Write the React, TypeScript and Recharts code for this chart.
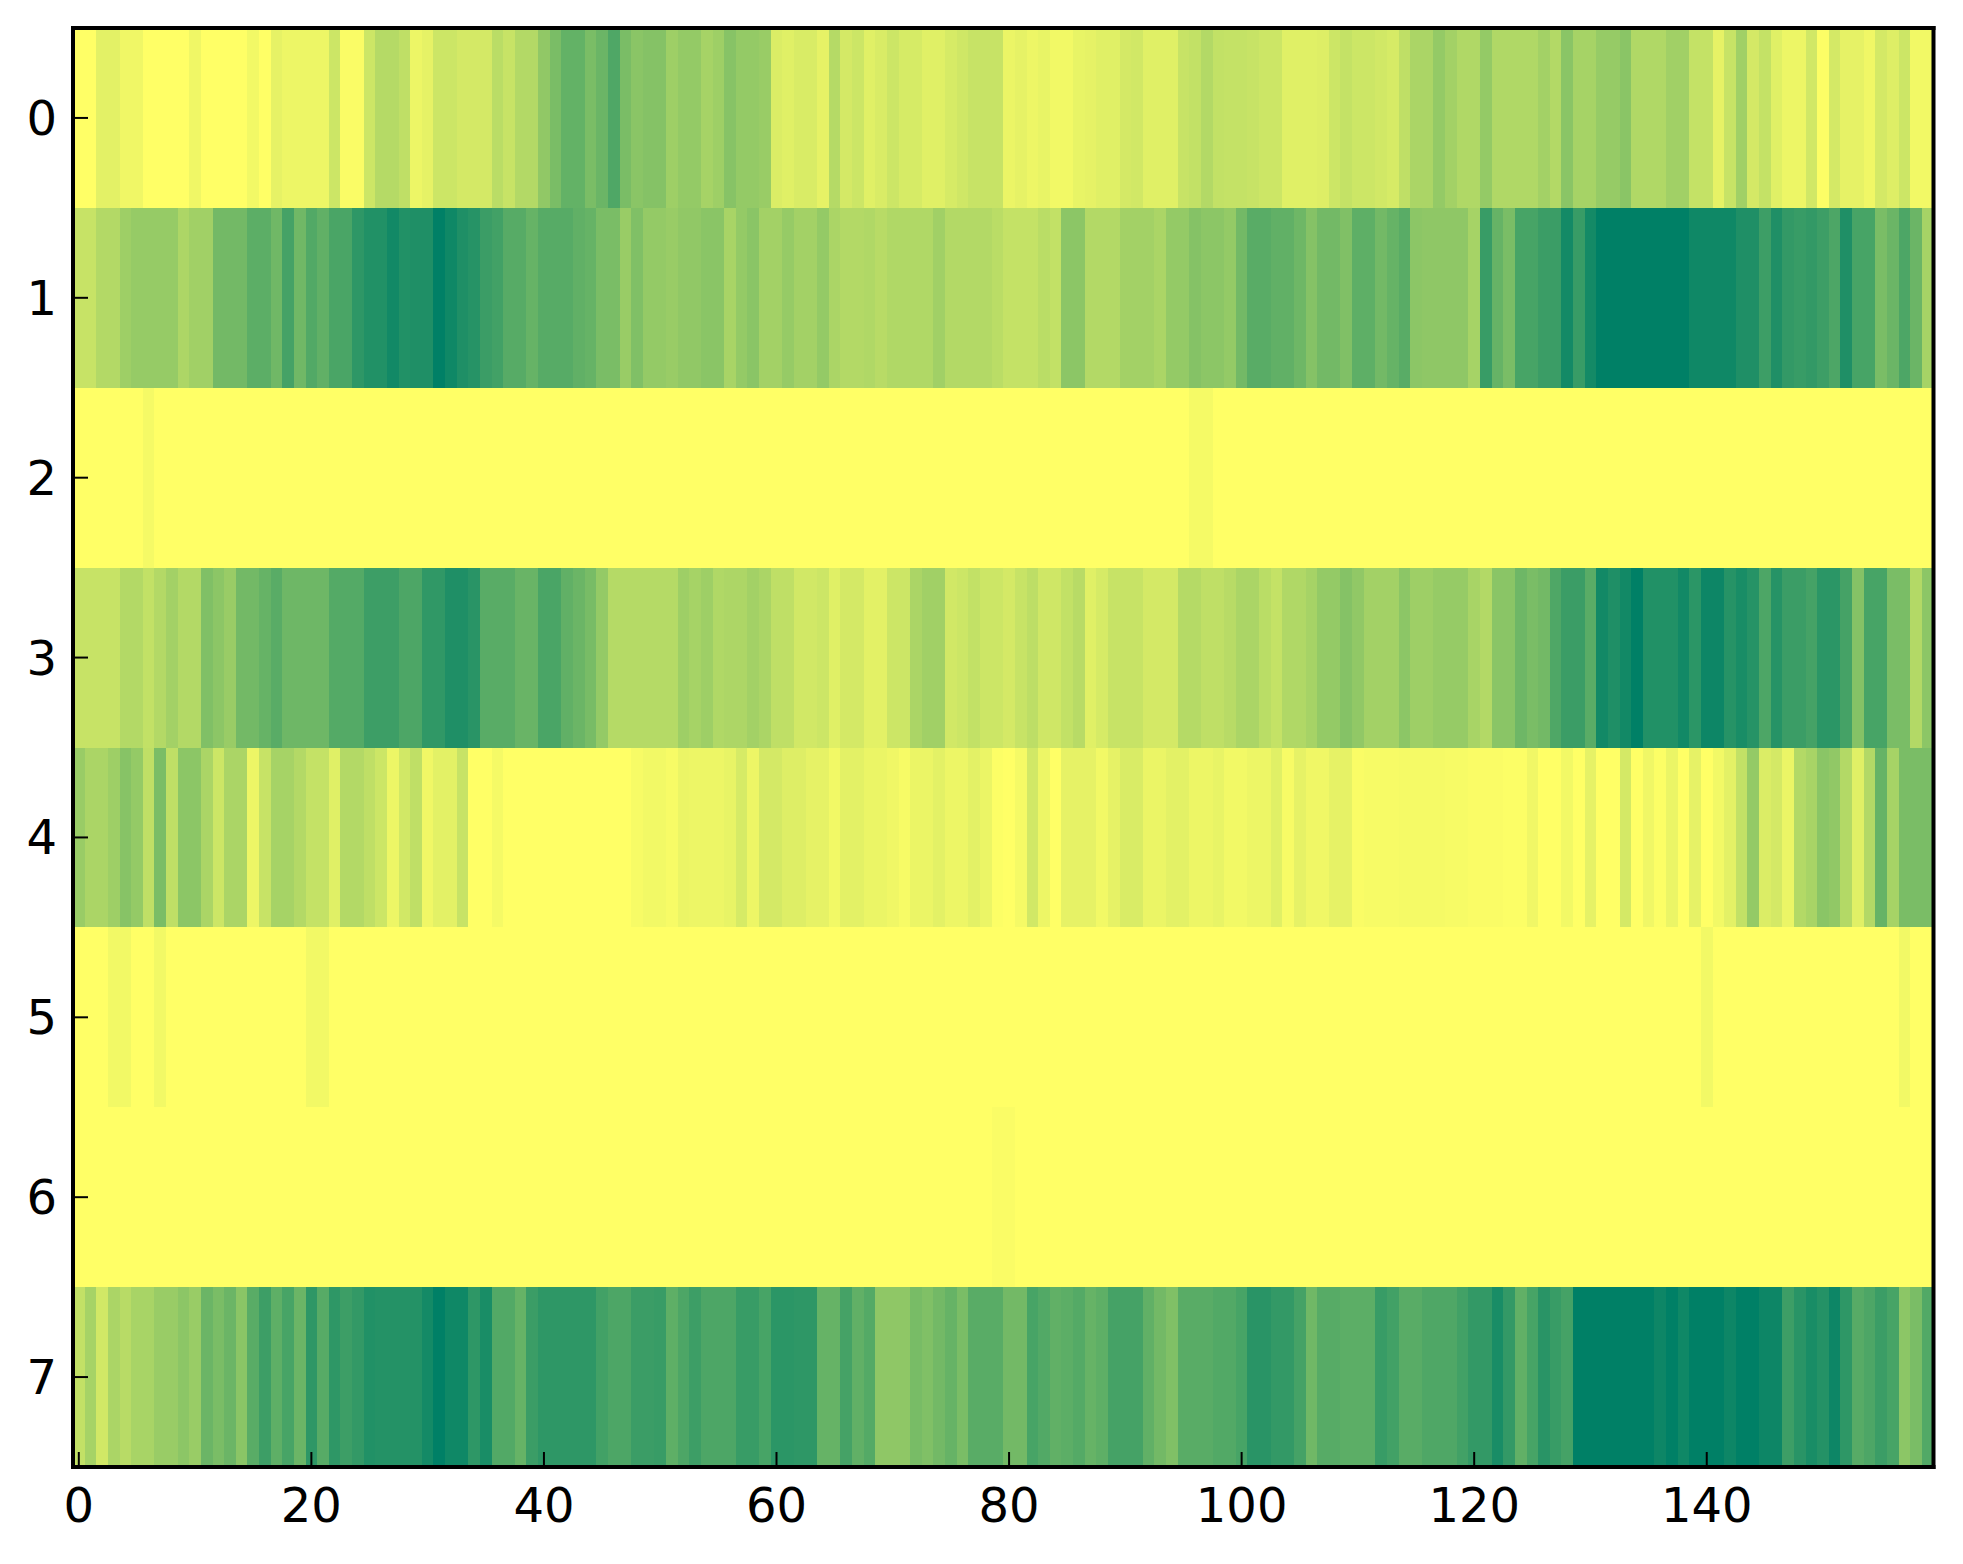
import { ScatterChart, Scatter, XAxis, YAxis } from 'recharts'

const WIDTH = 1963
const HEIGHT = 1564
const plot = { left: 73, right: 29.5, top: 28, bottom: 97 }
const X_AXIS_H = 60
const Y_AXIS_W = 60

const xTicks = [0, 20, 40, 60, 80, 100, 120, 140]
const yTicks = [0, 1, 2, 3, 4, 5, 6, 7]
const xDomain = [-0.5, 159.5]
const yDomain = [-0.5, 7.5]

// values in percent of the summer_r colormap
const row0 = [
  0, 0, 11, 11, 6, 6, 0, 0, 0, 0, 6, 0, 0, 0, 0, 5, 0, 10, 7, 7,
  7, 7, 20, 2, 2, 20, 29, 29, 25, 7, 10, 20, 20, 17, 17, 17, 27, 22, 30, 30,
  43, 52, 61, 61, 52, 58, 69, 52, 46, 48, 48, 38, 42, 42, 35, 38, 47, 42, 42, 40,
  14, 12, 15, 15, 10, 29, 17, 20, 12, 15, 20, 16, 16, 12, 12, 16, 19, 22, 22, 22,
  8, 10, 7, 9, 5, 5, 9, 10, 12, 12, 17, 18, 12, 12, 12, 22, 24, 30, 24, 23,
  23, 22, 20, 20, 12, 12, 12, 13, 20, 23, 20, 20, 18, 16, 25, 33, 33, 42, 36, 31,
  31, 42, 31, 31, 31, 31, 36, 30, 46, 35, 35, 41, 41, 46, 31, 31, 31, 37, 37, 23,
  23, 10, 22, 37, 17, 23, 12, 7, 7, 18, 1, 17, 10, 10, 6, 17, 13, 20, 5, 5,
]
const row1 = [
  22, 22, 30, 30, 38, 41, 41, 41, 41, 32, 37, 37, 55, 55, 55, 64, 64, 56, 73, 56,
  68, 62, 71, 71, 82, 87, 87, 93, 87, 88, 88, 100, 94, 88, 85, 77, 74, 66, 66, 60,
  66, 66, 66, 62, 60, 52, 52, 40, 50, 42, 42, 40, 43, 43, 46, 46, 34, 42, 46, 36,
  36, 41, 36, 36, 42, 33, 30, 30, 31, 28, 31, 31, 31, 31, 37, 30, 30, 30, 30, 27,
  23, 23, 23, 27, 24, 45, 45, 30, 30, 30, 36, 36, 36, 33, 42, 42, 48, 45, 45, 42,
  55, 65, 65, 62, 62, 57, 48, 55, 55, 50, 63, 63, 55, 60, 65, 45, 44, 44, 44, 44,
  35, 78, 60, 52, 72, 72, 77, 77, 92, 78, 92, 100, 100, 100, 100, 100, 100, 100, 100, 94,
  94, 94, 94, 88, 88, 76, 88, 80, 78, 80, 76, 70, 88, 72, 72, 52, 58, 70, 58, 35,
]
const row2 = [
  0, 0, 0, 0, 0, 0, 4, 0, 0, 0, 0, 0, 0, 0, 0, 0, 0, 0, 0, 0,
  0, 0, 0, 0, 0, 0, 0, 0, 0, 0, 0, 0, 0, 0, 0, 0, 0, 0, 0, 0,
  0, 0, 0, 0, 0, 0, 0, 0, 0, 0, 0, 0, 0, 0, 0, 0, 0, 0, 0, 0,
  0, 0, 0, 0, 0, 0, 0, 0, 0, 0, 0, 0, 0, 0, 0, 0, 0, 0, 0, 0,
  0, 0, 0, 0, 0, 0, 0, 0, 0, 0, 0, 0, 0, 0, 0, 0, 4, 4, 0, 0,
  0, 0, 0, 0, 0, 0, 0, 0, 0, 0, 0, 0, 0, 0, 0, 0, 0, 0, 0, 0,
  0, 0, 0, 0, 0, 0, 0, 0, 0, 0, 0, 0, 0, 0, 0, 0, 0, 0, 0, 0,
  0, 0, 0, 0, 0, 0, 0, 0, 0, 0, 0, 0, 0, 0, 0, 0, 0, 0, 0, 0,
]
const row3 = [
  22, 22, 22, 22, 30, 30, 24, 30, 36, 30, 30, 50, 45, 40, 55, 55, 60, 65, 57, 57,
  57, 57, 67, 67, 67, 76, 76, 76, 70, 70, 81, 81, 88, 88, 84, 65, 65, 65, 59, 59,
  71, 71, 62, 58, 53, 42, 29, 29, 29, 29, 29, 29, 38, 35, 38, 31, 32, 32, 36, 33,
  25, 25, 18, 18, 20, 12, 17, 17, 11, 11, 20, 20, 33, 37, 37, 18, 20, 24, 20, 20,
  17, 22, 26, 19, 19, 24, 28, 12, 16, 22, 22, 22, 17, 17, 17, 29, 29, 25, 25, 28,
  33, 33, 27, 23, 31, 31, 35, 42, 42, 48, 43, 36, 36, 36, 45, 38, 38, 41, 41, 41,
  34, 30, 46, 46, 57, 52, 55, 69, 77, 77, 65, 93, 88, 93, 100, 87, 87, 87, 93, 83,
  95, 95, 85, 90, 85, 70, 85, 77, 77, 73, 83, 83, 73, 48, 72, 72, 52, 52, 30, 45,
]
const row4 = [
  40, 33, 33, 38, 47, 42, 25, 52, 25, 45, 45, 33, 20, 33, 33, 7, 22, 35, 35, 30,
  23, 23, 12, 30, 30, 25, 20, 7, 18, 25, 6, 11, 11, 22, 0, 0, 4, 0, 0, 0,
  0, 0, 0, 0, 0, 0, 0, 0, 3, 5, 5, 3, 8, 7, 7, 7, 9, 16, 7, 17,
  17, 13, 13, 10, 10, 5, 11, 11, 8, 8, 6, 3, 8, 8, 11, 7, 7, 11, 8, 1,
  0, 4, 18, 7, 0, 10, 10, 10, 5, 10, 15, 15, 8, 8, 11, 11, 7, 7, 9, 5,
  5, 7, 7, 12, 3, 10, 6, 6, 10, 10, 2, 3, 3, 3, 4, 4, 4, 4, 3, 3,
  2, 2, 2, 1, 1, 6, 0, 0, 5, 0, 10, 0, 0, 17, 0, 6, 1, 8, 0, 10,
  0, 5, 11, 24, 42, 14, 17, 8, 30, 34, 46, 43, 30, 12, 30, 60, 35, 52, 52, 52,
]
const row5 = [
  0, 0, 0, 5, 5, 0, 0, 5, 0, 0, 0, 0, 0, 0, 0, 0, 0, 0, 0, 0,
  5, 5, 0, 0, 0, 0, 0, 0, 0, 0, 0, 0, 0, 0, 0, 0, 0, 0, 0, 0,
  0, 0, 0, 0, 0, 0, 0, 0, 0, 0, 0, 0, 0, 0, 0, 0, 0, 0, 0, 0,
  0, 0, 0, 0, 0, 0, 0, 0, 0, 0, 0, 0, 0, 0, 0, 0, 0, 0, 0, 0,
  0, 0, 0, 0, 0, 0, 0, 0, 0, 0, 0, 0, 0, 0, 0, 0, 0, 0, 0, 0,
  0, 0, 0, 0, 0, 0, 0, 0, 0, 0, 0, 0, 0, 0, 0, 0, 0, 0, 0, 0,
  0, 0, 0, 0, 0, 0, 0, 0, 0, 0, 0, 0, 0, 0, 0, 0, 0, 0, 0, 0,
  5, 0, 0, 0, 0, 0, 0, 0, 0, 0, 0, 0, 0, 0, 0, 0, 0, 5, 0, 0,
]
const row6 = [
  0, 0, 0, 0, 0, 0, 0, 0, 0, 0, 0, 0, 0, 0, 0, 0, 0, 0, 0, 0,
  0, 0, 0, 0, 0, 0, 0, 0, 0, 0, 0, 0, 0, 0, 0, 0, 0, 0, 0, 0,
  0, 0, 0, 0, 0, 0, 0, 0, 0, 0, 0, 0, 0, 0, 0, 0, 0, 0, 0, 0,
  0, 0, 0, 0, 0, 0, 0, 0, 0, 0, 0, 0, 0, 0, 0, 0, 0, 0, 0, 2,
  2, 0, 0, 0, 0, 0, 0, 0, 0, 0, 0, 0, 0, 0, 0, 0, 0, 0, 0, 0,
  0, 0, 0, 0, 0, 0, 0, 0, 0, 0, 0, 0, 0, 0, 0, 0, 0, 0, 0, 0,
  0, 0, 0, 0, 0, 0, 0, 0, 0, 0, 0, 0, 0, 0, 0, 0, 0, 0, 0, 0,
  0, 0, 0, 0, 0, 0, 0, 0, 0, 0, 0, 0, 0, 0, 0, 0, 0, 0, 0, 0,
]
const row7 = [
  24, 35, 18, 33, 28, 34, 34, 40, 40, 45, 40, 58, 52, 58, 46, 65, 76, 63, 72, 58,
  82, 66, 82, 76, 80, 87, 86, 86, 86, 86, 92, 100, 94, 94, 82, 90, 68, 68, 60, 77,
  82, 82, 82, 82, 82, 74, 70, 70, 77, 77, 78, 63, 70, 76, 70, 70, 70, 78, 78, 72,
  83, 83, 82, 82, 60, 60, 73, 62, 67, 44, 44, 44, 53, 50, 55, 60, 52, 65, 65, 65,
  55, 55, 72, 68, 62, 64, 67, 60, 63, 73, 73, 73, 62, 55, 50, 65, 65, 65, 68, 68,
  72, 84, 84, 80, 80, 73, 56, 66, 66, 64, 64, 64, 78, 74, 65, 65, 69, 69, 69, 74,
  80, 80, 90, 80, 62, 72, 84, 78, 73, 100, 100, 100, 100, 100, 100, 100, 95, 100, 94, 100,
  100, 100, 95, 100, 100, 95, 95, 76, 84, 90, 86, 95, 82, 66, 70, 77, 72, 45, 52, 68,
]

const rows = [row0, row1, row2, row3, row4, row5, row6, row7]
const cells = rows.flatMap((row, y) => row.map((v, x) => ({ x, y, v })))

const cellW = (WIDTH - plot.left - plot.right) / 160
const cellH = (HEIGHT - plot.top - plot.bottom) / 8

function summerR(pct: number) {
  const t = 1 - pct / 100
  return `rgb(${Math.round(255 * t)},${Math.round(128 + 127 * t)},102)`
}

function HeatCell({ cx, cy, payload }: any) {
  return (
    <rect
      x={cx - cellW / 2}
      y={cy - cellH / 2}
      width={cellW + 0.5}
      height={cellH + 0.5}
      fill={summerR(payload.v)}
      shapeRendering="crispEdges"
    />
  )
}

const NoMark = () => null

const spine = { stroke: '#000', strokeWidth: 4, strokeLinecap: 'square' }
const tickMark = { stroke: '#000', strokeWidth: 2 }
const tickText = { fontFamily: 'DejaVu Sans', fontSize: 48, fill: '#000' }
const layer = { position: 'absolute', left: 0, top: 0 } as const

export default function App() {
  return (
    <div style={{ ...layer, width: WIDTH, height: HEIGHT, background: '#fff' }}>
      <div style={layer}>
        <ScatterChart width={WIDTH} height={HEIGHT} margin={plot}>
          <XAxis hide type="number" dataKey="x" domain={xDomain} />
          <YAxis hide type="number" dataKey="y" reversed domain={yDomain} />
          <Scatter data={cells} shape={HeatCell} isAnimationActive={false} />
        </ScatterChart>
      </div>
      {/* the frame and ticks go in a second chart so they sit on top of the cells */}
      <div style={layer}>
        <ScatterChart
          width={WIDTH}
          height={HEIGHT}
          margin={{
            left: plot.left - Y_AXIS_W,
            right: plot.right - 1,
            top: plot.top - 1,
            bottom: plot.bottom - X_AXIS_H,
          }}
        >
          <XAxis
            xAxisId="bottom"
            type="number"
            dataKey="x"
            domain={xDomain}
            ticks={xTicks}
            interval={0}
            height={X_AXIS_H}
            axisLine={spine}
            tickLine={tickMark}
            tickSize={-15}
            tickMargin={36}
            tick={tickText}
          />
          <XAxis
            xAxisId="top"
            orientation="top"
            type="number"
            dataKey="x"
            domain={xDomain}
            ticks={xTicks}
            interval={0}
            height={1}
            axisLine={spine}
            tickLine={tickMark}
            tickSize={-15}
            tick={false}
          />
          <YAxis
            yAxisId="left"
            type="number"
            dataKey="y"
            reversed
            domain={yDomain}
            ticks={yTicks}
            interval={0}
            width={Y_AXIS_W}
            axisLine={spine}
            tickLine={tickMark}
            tickSize={-15}
            tickMargin={31}
            tick={tickText}
          />
          <YAxis
            yAxisId="right"
            orientation="right"
            type="number"
            dataKey="y"
            reversed
            domain={yDomain}
            ticks={yTicks}
            interval={0}
            width={1}
            axisLine={spine}
            tickLine={tickMark}
            tickSize={-15}
            tick={false}
          />
          <Scatter xAxisId="bottom" yAxisId="left" data={cells} shape={NoMark} isAnimationActive={false} />
          <Scatter xAxisId="top" yAxisId="right" data={cells} shape={NoMark} isAnimationActive={false} />
        </ScatterChart>
      </div>
    </div>
  )
}
